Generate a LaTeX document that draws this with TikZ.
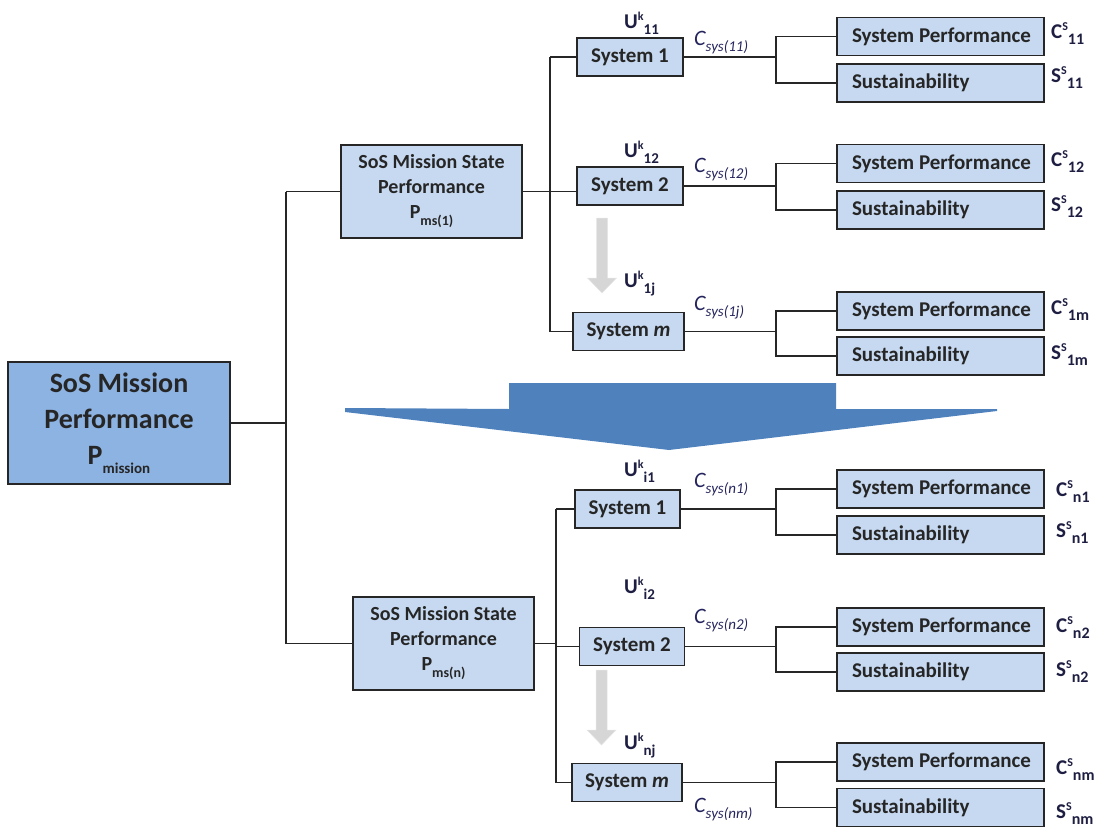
\documentclass[tikz,border=0pt]{standalone}
\usepackage{fontspec}
\setmainfont{Carlito}
\definecolor{lightbox}{HTML}{C6D9F1}
\definecolor{mainbox}{HTML}{8DB3E2}
\definecolor{bigarrow}{HTML}{4F81BD}
\definecolor{lbl}{HTML}{1E1E42}
\definecolor{csys}{HTML}{25255E}
\definecolor{linec}{HTML}{262626}
\newcommand\fs[1]{\fontsize{#1}{#1}\selectfont}
\newcommand\Ulab[1]{U\raisebox{8pt}{\fs{12}k}\raisebox{-6pt}{\fs{15}#1}}
\newcommand\Clab[1]{\textit{C\raisebox{-6pt}{\fs{15}#1}}}
\newcommand\Rlab[2]{#1\raisebox{8pt}{\fs{12}S}\raisebox{-6pt}{\fs{16}#2}}
\tikzset{
  x=1pt, y=-1pt,
  bx/.style={draw=linec, line width=1.8pt, fill=lightbox, inner sep=0pt, align=center,
    font=\bfseries\fontsize{21}{25}\selectfont, text=black!85},
  sysbox/.style={bx, minimum height=38pt},
  rbox/.style={bx, minimum width=207pt, minimum height=38pt, inner xsep=15pt},
  msbox/.style={bx, minimum width=181pt, minimum height=93pt, font=\bfseries\fontsize{20}{25}\selectfont},
  ulab/.style={anchor=west, inner sep=0pt, text=lbl, font=\bfseries\fontsize{21}{21}\selectfont},
  clab/.style={anchor=west, inner sep=0pt, text=csys, font=\fontsize{22}{22}\selectfont},
  rlab/.style={anchor=west, inner sep=0pt, text=lbl, font=\bfseries\fontsize{21}{21}\selectfont},
  conn/.style={draw=linec, line width=1.6pt},
  grayarrow/.style={fill=black!16, draw=black!10, line width=0.5pt},
}
\begin{document}
\begin{tikzpicture}
\useasboundingbox (0,0) rectangle (1101,827);

% big transition arrow
\fill[bigarrow] (345,408) -- (509,409) -- (509,383) -- (836,383) -- (836,409) -- (997,409) -- (997,411) -- (669,450) -- (345,412) -- cycle;

% main box
\node[bx, fill=mainbox, minimum width=222pt, minimum height=122pt,
  font=\bfseries\fontsize{28}{36}\selectfont] (main) at (119,423)
  {SoS Mission\\Performance\\P\raisebox{-9pt}{\fs{15}mission}};

% mission state boxes
\node[msbox] (ms1) at (431.5,191.5) {SoS Mission State\\Performance\\P\raisebox{-7pt}{\fs{14}ms(1)}};
\node[msbox] (msn) at (443.5,643.5) {SoS Mission State\\Performance\\P\raisebox{-7pt}{\fs{14}ms(n)}};

% systems
\node[sysbox, minimum width=106pt] (s11) at (630,57) {System 1};
\node[sysbox, minimum width=106pt] (s12) at (630,186) {System 2};
\node[sysbox, minimum width=111pt] (s1m) at (628.5,331.5) {System \textit{m}};
\node[sysbox, minimum width=105pt] (sn1) at (627.5,509) {System 1};
\node[sysbox, minimum width=105pt] (sn2) at (632,646.5) {System 2};
\node[sysbox, minimum width=110pt] (snm) at (627,782.5) {System \textit{m}};

% right column
\node[rbox] (p11) at (940.5,36.5) {\makebox[177pt][l]{System Performance}};
\node[rbox] (u11) at (940.5,83) {\makebox[177pt][l]{Sustainability}};
\node[rbox] (p12) at (940.5,163.5) {\makebox[177pt][l]{System Performance}};
\node[rbox] (u12) at (940.5,210) {\makebox[177pt][l]{Sustainability}};
\node[rbox] (p1m) at (940.5,311) {\makebox[177pt][l]{System Performance}};
\node[rbox] (u1m) at (940.5,356) {\makebox[177pt][l]{Sustainability}};
\node[rbox] (pn1) at (940.5,489) {\makebox[177pt][l]{System Performance}};
\node[rbox] (un1) at (940.5,535) {\makebox[177pt][l]{Sustainability}};
\node[rbox] (pn2) at (940.5,627) {\makebox[177pt][l]{System Performance}};
\node[rbox] (un2) at (940.5,672) {\makebox[177pt][l]{Sustainability}};
\node[rbox] (pnm) at (940.5,762) {\makebox[177pt][l]{System Performance}};
\node[rbox] (unm) at (940.5,807.5) {\makebox[177pt][l]{Sustainability}};

% junction coordinates
\coordinate (t1) at (286,191.5);
\coordinate (t2) at (286,643.5);
\coordinate (v1) at (550,0);
\coordinate (v2) at (556,0);
\coordinate (bx) at (776,0);

% connectors: trunk
\draw[conn] (main.east) -- (main.east -| t1);
\draw[conn] (t1) -- (t2);
\draw[conn] (t1) -- (ms1.west);
\draw[conn] (t2) -- (msn.west);

% upper branch
\draw[conn] (ms1.east) -- (ms1.east -| s12.west);
\draw[conn] (s11.west -| v1) -- (s1m.west -| v1);
\draw[conn] (s11.west -| v1) -- (s11.west);
\draw[conn] (s1m.west -| v1) -- (s1m.west);

% lower branch
\draw[conn] (msn.east) -- (msn.east -| v2);
\draw[conn] (sn1.west -| v2) -- (snm.west -| v2);
\draw[conn] (sn1.west -| v2) -- (sn1.west);
\draw[conn] (sn2.west -| v2) -- (sn2.west);
\draw[conn] (snm.west -| v2) -- (snm.west);

% brackets
\foreach \s/\p/\u in {s11/p11/u11, s12/p12/u12, s1m/p1m/u1m, sn1/pn1/un1, sn2/pn2/un2, snm/pnm/unm}{
  \draw[conn] (\s.east) -- (\s.east -| bx);
  \draw[conn] (\p.west) -- (\p.west -| bx) -- (\u.west -| bx) -- (\u.west);
}

% gray arrows
\fill[grayarrow] (596.5,218) -- (607.5,218) -- (607.5,278) -- (616.5,278) -- (602,293) -- (587.5,278) -- (596.5,278) -- cycle;
\fill[grayarrow] (596,670) -- (607,670) -- (607,730) -- (616,730) -- (601.5,745) -- (587,730) -- (596,730) -- cycle;

% U labels
\node[ulab] (uk11) at (624,23) {\Ulab{11}};
\node[ulab] (uk12) at (624,152) {\Ulab{12}};
\node[ulab] (uk1j) at (624,284) {\Ulab{1j}};
\node[ulab] (uki1) at (624,471) {\Ulab{i1}};
\node[ulab] (uki2) at (624,588) {\Ulab{i2}};
\node[ulab] (uknj) at (624,746) {\Ulab{nj}};

% C_sys labels
\node[clab] (c11) at (694,43) {\Clab{sys(11)}};
\node[clab] (c12) at (694,170) {\Clab{sys(12)}};
\node[clab] (c1j) at (694,308) {\Clab{sys(1j)}};
\node[clab] (cn1) at (694,485) {\Clab{sys(n1)}};
\node[clab] (cn2) at (694,621) {\Clab{sys(n2)}};
\node[clab] (cnm) at (694,810) {\Clab{sys(nm)}};

% right labels
\node[rlab] (rc11) at (1051,34) {\Rlab{C}{11}};
\node[rlab] (rs11) at (1051,78) {\Rlab{S}{11}};
\node[rlab] (rc12) at (1051,162) {\Rlab{C}{12}};
\node[rlab] (rs12) at (1051,207) {\Rlab{S}{12}};
\node[rlab] (rc1m) at (1051,310) {\Rlab{C}{1m}};
\node[rlab] (rs1m) at (1051,355) {\Rlab{S}{1m}};
\node[rlab] (rcn1) at (1056,492) {\Rlab{C}{n1}};
\node[rlab] (rsn1) at (1056,533) {\Rlab{S}{n1}};
\node[rlab] (rcn2) at (1056,628) {\Rlab{C}{n2}};
\node[rlab] (rsn2) at (1056,672) {\Rlab{S}{n2}};
\node[rlab] (rcnm) at (1056,770) {\Rlab{C}{nm}};
\node[rlab] (rsnm) at (1056,814) {\Rlab{S}{nm}};
\end{tikzpicture}
\end{document}
